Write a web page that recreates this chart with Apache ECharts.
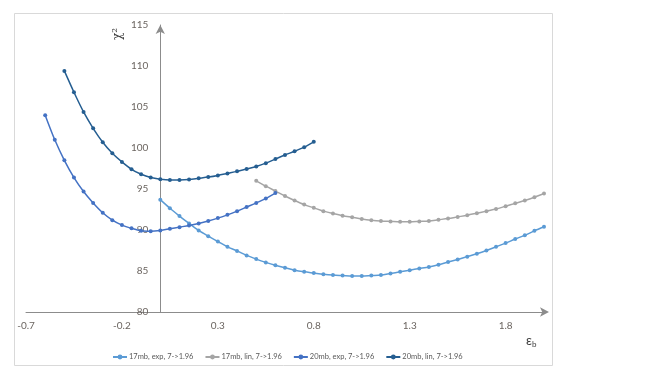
<!DOCTYPE html>
<html>
<head>
<meta charset="utf-8">
<title>chi2 vs eps_b</title>
<script src="https://cdn.jsdelivr.net/npm/echarts@6/dist/echarts.min.js"></script>
<style>
  html, body { margin: 0; padding: 0; background: #fff; }
  #chart { width: 664px; height: 386px; }
</style>
</head>
<body>
<div id="chart"></div>
<script>
// values, step 0.05 in eps_b
const names = ["17mb, exp, 7->1.96", "17mb, lin, 7->1.96", "20mb, exp, 7->1.96", "20mb, lin, 7->1.96"];
const colors = ["#5b9bd5", "#a5a5a5", "#4472c4", "#255e91"];

// 17mb exp: eps_b 0 .. 2.0
const exp17Start = 0;
const exp17 = [
  93.7, 92.65, 91.7, 90.8, 89.95, 89.25, 88.6, 87.95, 87.45, 86.9,
  86.45, 86.05, 85.7, 85.4, 85.1, 84.9, 84.75, 84.6, 84.5, 84.45,
  84.4, 84.4, 84.45, 84.5, 84.7, 84.9, 85.1, 85.3, 85.5, 85.75,
  86.1, 86.4, 86.75, 87.1, 87.5, 87.95, 88.4, 88.9, 89.35, 89.9, 90.4
];
// 17mb lin: eps_b 0.5 .. 2.0
const lin17Start = 0.5;
const lin17 = [
  96.0, 95.35, 94.75, 94.15, 93.6, 93.1, 92.7, 92.3, 92.0, 91.75,
  91.55, 91.35, 91.2, 91.1, 91.05, 91.0, 91.0, 91.05, 91.1, 91.25,
  91.4, 91.6, 91.8, 92.05, 92.3, 92.55, 92.9, 93.25, 93.6, 94.0, 94.45
];
// 20mb exp: eps_b -0.6 .. 0.6
const exp20Start = -0.6;
const exp20 = [
  104.0, 101.0, 98.5, 96.4, 94.7, 93.3, 92.1, 91.2, 90.6, 90.2,
  89.9, 89.85, 89.95, 90.15, 90.35, 90.55, 90.8, 91.1, 91.45, 91.85,
  92.3, 92.8, 93.3, 93.85, 94.5
];
// 20mb lin: eps_b -0.5 .. 0.8
const lin20Start = -0.5;
const lin20 = [
  109.4, 106.8, 104.4, 102.4, 100.7, 99.35, 98.3, 97.4, 96.8, 96.4,
  96.2, 96.1, 96.1, 96.15, 96.3, 96.45, 96.65, 96.9, 97.15, 97.45,
  97.75, 98.15, 98.65, 99.15, 99.6, 100.1, 100.75
];

const xStep = 0.05;
const xTicks = [-0.7, -0.2, 0.3, 0.8, 1.3, 1.8];
const yTicks = [80, 85, 90, 95, 100, 105, 110, 115];

function pairs(start, values) {
  return values.map((v, i) => [+(start + i * xStep).toFixed(2), v]);
}

const seriesData = [
  pairs(exp17Start, exp17),
  pairs(lin17Start, lin17),
  pairs(exp20Start, exp20),
  pairs(lin20Start, lin20)
];

const chart = echarts.init(document.getElementById("chart"));
const labelColor = "#6b6560";
const axisColor = "#8c8c8c";

const gridLeft = 26;
const gridRight = 120;
const xMax = 2.0;
// the y axis sits on eps_b = 0, so shift it in from the grid's left edge
const plotWidth = 664 - gridLeft - gridRight;
const yAxisShift = plotWidth * (0 - xTicks[0]) / (xMax - xTicks[0]);

const option = {
  animation: false,
  backgroundColor: "#fff",
  textStyle: { fontFamily: "Lato, 'Open Sans', sans-serif" },
  grid: { left: gridLeft, right: gridRight, top: 25, bottom: 74 },
  legend: {
    left: 107,
    top: 348,
    itemWidth: 14,
    itemHeight: 6,
    itemGap: 11,
    textStyle: { fontSize: 7.5, color: "#595959", padding: [0, 0, 0, -3] },
    data: names
  },
  graphic: [
    {
      type: "rect",
      shape: { x: 14.5, y: 13.5, width: 538, height: 352 },
      style: { fill: "none", stroke: "#d9d9d9", lineWidth: 1 },
      silent: true
    },
    {
      type: "text",
      x: 112,
      y: 40,
      rotation: Math.PI / 2,
      style: { text: "χ²", fontSize: 12, fill: "#404040", fontFamily: "'DejaVu Serif', serif" }
    },
    {
      type: "text",
      x: 526,
      y: 333,
      style: {
        text: "{a|ε}{b|b}",
        rich: {
          a: { fontSize: 13, fill: "#404040", fontFamily: "Lato, sans-serif" },
          b: { fontSize: 8, fill: "#404040", fontFamily: "Lato, sans-serif", padding: [7, 0, 0, 0] }
        }
      }
    }
  ],
  xAxis: {
    type: "value",
    min: xTicks[0],
    max: xMax,
    interval: 0.5,
    axisLine: {
      onZero: false,
      lineStyle: { color: axisColor, width: 1 },
      symbol: ["none", "arrow"],
      symbolSize: [7, 9],
      symbolOffset: [0, 5]
    },
    axisTick: { show: false },
    splitLine: { show: false },
    axisLabel: {
      color: labelColor,
      fontSize: 10,
      margin: 9,
      showMaxLabel: false,
      formatter: (v) => v.toFixed(1)
    }
  },
  yAxis: {
    type: "value",
    min: yTicks[0],
    max: yTicks[yTicks.length - 1],
    interval: 5,
    offset: -yAxisShift,
    axisLine: {
      show: true,
      onZero: false,
      lineStyle: { color: axisColor, width: 1 },
      symbol: ["none", "arrow"],
      symbolSize: [7, 9]
    },
    axisTick: { show: false },
    splitLine: { show: false },
    axisLabel: { color: labelColor, fontSize: 10, margin: 12 }
  },
  series: seriesData.map((data, i) => ({
    name: names[i],
    type: "line",
    data: data,
    smooth: 0.3,
    symbol: "circle",
    symbolSize: 4,
    color: colors[i],
    lineStyle: { width: 1.5, color: colors[i] },
    itemStyle: { color: colors[i] }
  }))
};

chart.setOption(option);
</script>
</body>
</html>
